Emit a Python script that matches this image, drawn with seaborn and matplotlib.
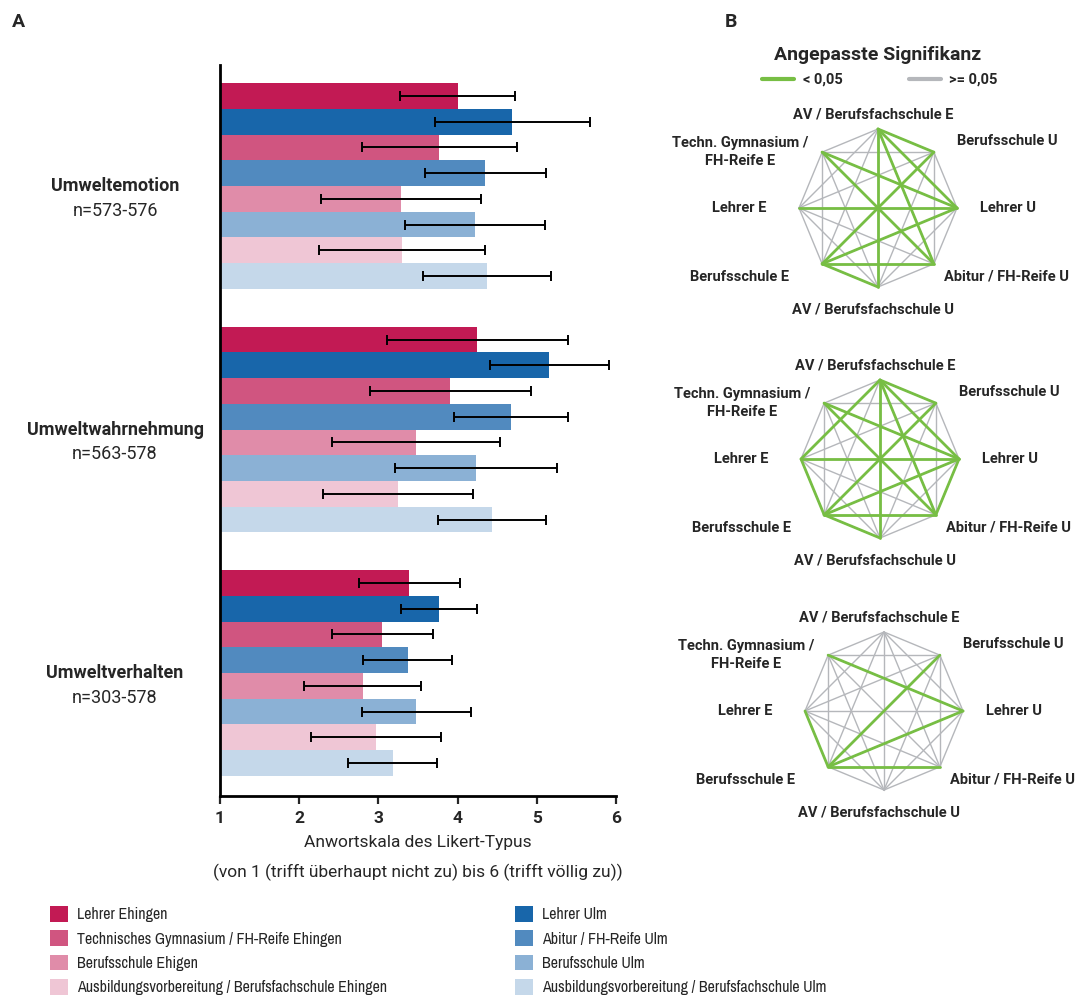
import numpy as np
import pandas as pd
import matplotlib
matplotlib.use('Agg')
import matplotlib.pyplot as plt
import matplotlib.transforms as mtransforms
from matplotlib import font_manager
from matplotlib.container import BarContainer
from matplotlib.patches import Patch
from matplotlib.lines import Line2D
import seaborn as sns

# --- data -------------------------------------------------------------
constructs = ['Umweltemotion', 'Umweltwahrnehmung', 'Umweltverhalten']
n_labels = ['n=573-576', 'n=563-578', 'n=303-578']

groups = ['Lehrer Ehingen', 'Lehrer Ulm',
          'Technisches Gymnasium / FH-Reife Ehingen', 'Abitur / FH-Reife Ulm',
          'Berufsschule Ehigen', 'Berufsschule Ulm',
          'Ausbildungsvorbereitung / Berufsfachschule Ehingen',
          'Ausbildungsvorbereitung / Berufsfachschule Ulm']
colors = ['#C21A54', '#1866AA', '#D05580', '#518ABF',
          '#E08CA9', '#8BB1D5', '#EFC6D5', '#C5D8EA']

means_emotion = [4.00, 4.69, 3.77, 4.35, 3.28, 4.22, 3.30, 4.37]
sd_emotion = [0.73, 0.98, 0.98, 0.76, 1.01, 0.88, 1.05, 0.81]
means_wahrnehmung = [4.25, 5.16, 3.91, 4.68, 3.48, 4.23, 3.25, 4.43]
sd_wahrnehmung = [1.14, 0.75, 1.02, 0.72, 1.06, 1.02, 0.95, 0.68]
means_verhalten = [3.39, 3.77, 3.05, 3.37, 2.80, 3.48, 2.97, 3.18]
sd_verhalten = [0.64, 0.48, 0.64, 0.56, 0.74, 0.69, 0.82, 0.56]

# network nodes, clockwise from top
node_labels = ['AV / Berufsfachschule E', 'Berufsschule U', 'Lehrer U',
               'Abitur / FH-Reife U', 'AV / Berufsfachschule U',
               'Berufsschule E', 'Lehrer E', 'Techn. Gymnasium /\nFH-Reife E']
# pairs with adjusted p < 0.05
sig_emotion = [(0, 1), (0, 2), (0, 3), (0, 4), (7, 2), (7, 3), (1, 5),
               (6, 2), (5, 2), (5, 4), (5, 3)]
sig_wahrnehmung = [(0, 1), (0, 2), (0, 3), (0, 4), (0, 6), (7, 2), (7, 3),
                   (1, 5), (6, 2), (6, 5), (5, 2), (5, 3), (5, 4), (2, 3)]
sig_verhalten = [(7, 2), (1, 5), (6, 5), (5, 2), (5, 3)]

df = pd.DataFrame({
    'construct': np.repeat(constructs, len(groups)),
    'group': groups * len(constructs),
    'mean': means_emotion + means_wahrnehmung + means_verhalten,
    'sd': sd_emotion + sd_wahrnehmung + sd_verhalten,
})

# --- fonts -----------------------------------------------------------
sns.set_style('white')
available = sorted({f.name for f in font_manager.fontManager.ttflist})
narrow_names = [n for n in available if 'Narrow' in n or 'Condensed' in n]
narrow = narrow_names[0] if narrow_names else 'Roboto'
legend_size = 11.5 if narrow_names else 10
plt.rcParams['font.family'] = ['Roboto', 'DejaVu Sans']

fig = plt.figure(figsize=(10.78, 10), dpi=100)

# --- panel A ---------------------------------------------------------
ax = fig.add_axes([220 / 1078, 1 - 796 / 1000, 396 / 1078, 731 / 1000])
sns.barplot(data=df, x='mean', y='construct', hue='group', order=constructs,
            hue_order=groups, palette=colors, orient='h', width=0.845,
            errorbar=None, saturation=1, linewidth=0, legend=False, ax=ax)

# error bars (mean +/- sd) at each bar's centre
bar_containers = [c for c in ax.containers if isinstance(c, BarContainer)]
for container in bar_containers:
    for bar in container:
        yc = bar.get_y() + bar.get_height() / 2
        w = bar.get_width()
        cat = constructs[int(round(yc))]
        row = df[(df['construct'] == cat) & (np.isclose(df['mean'], w))].iloc[0]
        ax.errorbar(row['mean'], yc, xerr=row['sd'], fmt='none', ecolor='black',
                    elinewidth=1.4, capsize=3.6, capthick=1.4, zorder=3)

ax.set_xlim(1, 6)
ax.set_ylim(2.505, -0.497)
ax.set_xticks([1, 2, 3, 4, 5, 6])
ax.set_xticklabels(['1', '2', '3', '4', '5', '6'], fontweight='bold', fontsize=12.5)
ax.set_yticks([])
ax.set_ylabel('')
ax.set_xlabel('Anwortskala des Likert-Typus\n(von 1 (trifft überhaupt nicht zu) bis 6 (trifft völlig zu))',
              fontsize=12.5, labelpad=6, linespacing=2.05)
ax.tick_params(axis='x', direction='out', length=6, width=1.6, pad=5, bottom=True)
for side in ['top', 'right']:
    ax.spines[side].set_visible(False)
for side in ['left', 'bottom']:
    ax.spines[side].set_linewidth(2)
    ax.spines[side].set_color('black')

trans = mtransforms.blended_transform_factory(ax.transAxes, ax.transData)
for i, (c, n) in enumerate(zip(constructs, n_labels)):
    ax.text(-0.265, i, c, transform=trans, ha='center', va='center',
            fontsize=13, fontweight='bold')
    ax.text(-0.265, i + 0.102, n, transform=trans, ha='center', va='center',
            fontsize=13)

# legend, two columns
handles = [Patch(facecolor=col, edgecolor='none') for col in colors]
for col_idx, x0 in enumerate([50, 515]):
    idx = [col_idx + 2 * k for k in range(4)]
    fig.legend([handles[k] for k in idx], [groups[k] for k in idx],
               loc='upper left', bbox_to_anchor=(x0 / 1078, 1 - 906 / 1000),
               frameon=False, borderpad=0, borderaxespad=0, handlelength=1.15,
               handleheight=1.15, handletextpad=0.55, labelspacing=0.5,
               prop={'family': narrow, 'size': legend_size})

# --- panel B ---------------------------------------------------------
green = '#77BE44'
gray = '#B5B7BB'
angles = np.deg2rad(90 - 45 * np.arange(8))
nx, ny = np.cos(angles), np.sin(angles)
label_pos = [(-0.06, 1.18, 'center'), (1.0, 0.85, 'left'), (1.29, 0.0, 'left'),
             (0.84, -0.87, 'left'), (-0.06, -1.29, 'center'),
             (-1.13, -0.87, 'right'), (-1.41, 0.0, 'right'),
             (-1.75, 0.71, 'center')]
r_px = 79
for sig, (cx, cy) in zip([sig_emotion, sig_wahrnehmung, sig_verhalten],
                         [(878, 208), (880, 459), (884, 711)]):
    axn = fig.add_axes([(cx - 215) / 1078, 1 - (cy + 118) / 1000, 430 / 1078, 236 / 1000])
    axn.set_xlim(-215 / r_px, 215 / r_px)
    axn.set_ylim(-118 / r_px, 118 / r_px)
    axn.axis('off')
    for i in range(8):
        for j in range(i + 1, 8):
            axn.plot([nx[i], nx[j]], [ny[i], ny[j]], color=gray, lw=1.0,
                     solid_capstyle='round', zorder=1)
    for i, j in sig:
        axn.plot([nx[i], nx[j]], [ny[i], ny[j]], color=green, lw=2.0,
                 solid_capstyle='round', zorder=2)
    for lab, (lx, ly, ha) in zip(node_labels, label_pos):
        axn.text(lx, ly, lab, ha=ha, va='center', fontsize=10.5,
                 fontweight='bold', multialignment='center', linespacing=1.4)

fig.text(878 / 1078, 1 - 55 / 1000, 'Angepasste Signifikanz', ha='center',
         va='center', fontsize=14, fontweight='bold')
fig.legend([Line2D([], [], color=green, lw=3), Line2D([], [], color=gray, lw=3)],
           ['< 0,05', '>= 0,05'], loc='center', ncol=2,
           bbox_to_anchor=(880 / 1078, 1 - 80 / 1000), frameon=False,
           handlelength=2.2, handletextpad=0.6, columnspacing=4.5,
           prop={'size': 10.5, 'weight': 'bold'})

fig.text(18 / 1078, 1 - 22 / 1000, 'A', ha='center', va='center',
         fontsize=14, fontweight='bold')
fig.text(731 / 1078, 1 - 22 / 1000, 'B', ha='center', va='center',
         fontsize=14, fontweight='bold')

fig.savefig('out.png', dpi=100)
